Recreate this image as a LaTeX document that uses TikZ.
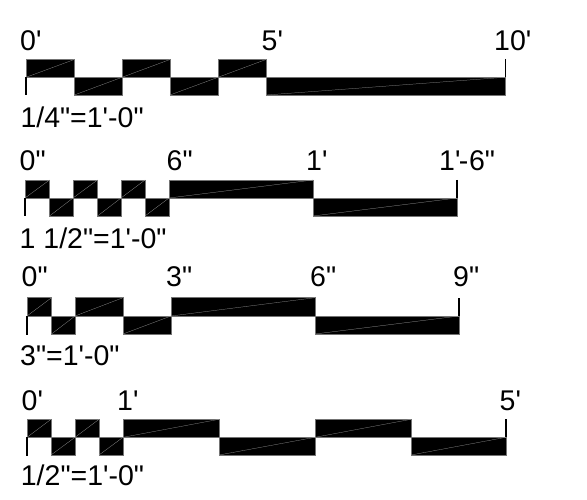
\documentclass[tikz,border=0pt]{standalone}
\usepackage{fontspec}
\newfontfamily\arialf{Liberation Sans}
\tikzset{
  cell/.style={fill=black,draw=black!55,line width=0.6pt},
  diag/.style={draw=white!60!black,line width=0.25pt},
  tick/.style={draw=black,line width=1.1pt},
  lab/.style={anchor=base west,inner sep=0pt,font=\arialf\fontsize{28.5}{29}\selectfont,text=black}
}
% #1 top y, #2 mid y, #3 bottom y, #4 list a/b/up(1)or down(0)
\newcommand\barcells[4]{%
  \foreach \a/\b/\u in {#4}{%
    \ifnum\u=1
      \path[cell] (\a,#1) rectangle (\b,#2);
      \path[diag] (\a,#2) -- (\b,#1);
    \else
      \path[cell] (\a,#2) rectangle (\b,#3);
      \path[diag] (\a,#3) -- (\b,#2);
    \fi
  }%
}
\begin{document}
\begin{tikzpicture}[x=1pt,y=-1pt]
\useasboundingbox (0,0) rectangle (587,500);
% row 1
\barcells{59.5}{77.3}{95}{26/74.3/1,74.3/122/0,122/170/1,170/218/0,218/266/1,266/505/0}
\coordinate (a0) at (26,77.3); \coordinate (a1) at (26,95.5);
\coordinate (a2) at (505.5,59); \coordinate (a3) at (505.5,77.3);
\draw[tick] (a0) -- (a1); \draw[tick] (a2) -- (a3);
\node[lab] (t1a) at (20,50.7) {0'};
\node[lab] (t1b) at (261.5,50.7) {5'};
\node[lab] (t1c) at (494,50.7) {10'};
\node[lab] (t1s) at (20.3,128) {1/4"=1'-0"};
% row 2
\barcells{180}{198}{216}{25/49.5/1,49.5/73/0,73/97.5/1,97.5/121/0,121/145/1,145/169/0,169/313/1,313/457/0}
\coordinate (b0) at (25,198); \coordinate (b1) at (25,216.5);
\coordinate (b2) at (457,180); \coordinate (b3) at (457,198);
\draw[tick] (b0) -- (b1); \draw[tick] (b2) -- (b3);
\node[lab] (t2a) at (19.5,171) {0"};
\node[lab] (t2b) at (166.5,171) {6"};
\node[lab] (t2c) at (306,171) {1'};
\node[lab] (t2d) at (439,171) {1'\kern-1.7pt-\kern0.8pt 6"};
\node[lab] (t2s) at (19.5,248) {1 1/2"=1'-0"};
% row 3
\barcells{297.7}{316}{334}{27/51.5/1,51.5/75/0,75/123/1,123/171/0,171/315/1,315/459/0}
\coordinate (c0) at (27,316); \coordinate (c1) at (27,334.5);
\coordinate (c2) at (459,298); \coordinate (c3) at (459,316);
\draw[tick] (c0) -- (c1); \draw[tick] (c2) -- (c3);
\node[lab] (t3a) at (21.5,287) {0"};
\node[lab] (t3b) at (166,287) {3"};
\node[lab] (t3c) at (310,287) {6"};
\node[lab] (t3d) at (453,287) {9"};
\node[lab] (t3s) at (20,365) {3"=1'-0"};
% row 4
\barcells{419.3}{437.3}{455}{27/51/1,51/75/0,75/99/1,99/123/0,123/219/1,219/315/0,315/411/1,411/506/0}
\coordinate (d0) at (27,437.3); \coordinate (d1) at (27,455.5);
\coordinate (d2) at (506,419); \coordinate (d3) at (506,437.3);
\draw[tick] (d0) -- (d1); \draw[tick] (d2) -- (d3);
\node[lab] (t4a) at (21.5,410.7) {0'};
\node[lab] (t4b) at (117,410.7) {1'};
\node[lab] (t4c) at (499.5,410.7) {5'};
\node[lab] (t4s) at (20.7,485) {1/2"=1'-0"};
\end{tikzpicture}
\end{document}
